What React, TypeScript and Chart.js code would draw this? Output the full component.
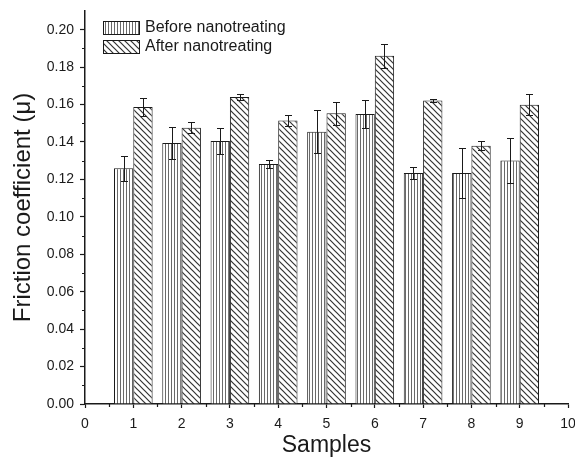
import React, { useEffect, useRef } from 'react';
import { Chart, registerables } from 'chart.js';

Chart.register(...registerables);

const samples = [1, 2, 3, 4, 5, 6, 7, 8, 9];
const beforeValues = [0.126, 0.1394, 0.1405, 0.1283, 0.1455, 0.155, 0.1234, 0.1234, 0.1301];
const beforeErrors = [0.0066, 0.0085, 0.0068, 0.002, 0.0115, 0.0075, 0.003, 0.0134, 0.012];
const afterValues = [0.1587, 0.1476, 0.164, 0.1515, 0.1553, 0.1861, 0.1622, 0.138, 0.1599];
const afterErrors = [0.0047, 0.003, 0.0015, 0.003, 0.0063, 0.0065, 0.0008, 0.0023, 0.0057];
const seriesLabels = ['Before nanotreating', 'After nanotreating'];
const xTitle = 'Samples';
const yTitle = 'Friction coefficient (\u03bc)';

const FONT = "'Liberation Sans', Arial, sans-serif";
const INK = '#1a1a1a';

function makePattern(kind: 'vertical' | 'diagonal'): CanvasPattern | string {
  const c = document.createElement('canvas');
  const g = c.getContext('2d');
  if (!g) return '#fff';
  if (kind === 'vertical') {
    c.width = 3;
    c.height = 4;
    g.fillStyle = '#ffffff';
    g.fillRect(0, 0, 3, 4);
    g.fillStyle = '#6a6a6a';
    g.fillRect(0, 0, 1, 4);
  } else {
    const p = 6;
    c.width = p;
    c.height = p;
    g.fillStyle = '#ffffff';
    g.fillRect(0, 0, p, p);
    g.strokeStyle = '#333333';
    g.lineWidth = 1.2;
    g.beginPath();
    g.moveTo(-1, -1);
    g.lineTo(p + 1, p + 1);
    g.moveTo(p - 1, -1);
    g.lineTo(p + 1, 1);
    g.moveTo(-1, p - 1);
    g.lineTo(1, p + 1);
    g.stroke();
  }
  return g.createPattern(c, 'repeat') || '#fff';
}

export default function App() {
  const ref = useRef<HTMLCanvasElement | null>(null);

  useEffect(() => {
    const canvas = ref.current;
    if (!canvas) return;
    const beforeFill = makePattern('vertical');
    const afterFill = makePattern('diagonal');
    const fills = [beforeFill, afterFill];
    const values = [beforeValues, afterValues];
    const errors = [beforeErrors, afterErrors];

    const errorBars = {
      id: 'errorBars',
      afterDatasetsDraw(chart: any) {
        const { ctx } = chart;
        const y = chart.scales.y;
        ctx.save();
        ctx.strokeStyle = INK;
        ctx.lineWidth = 1;
        for (let d = 0; d < values.length; d++) {
          const meta = chart.getDatasetMeta(d);
          meta.data.forEach((bar: any, i: number) => {
            const v = values[d][i];
            const e = errors[d][i];
            const x = Math.round(bar.x) + 0.5;
            const yt = Math.round(y.getPixelForValue(v + e)) + 0.5;
            const yb = Math.round(y.getPixelForValue(v - e)) + 0.5;
            ctx.beginPath();
            ctx.moveTo(x, yt);
            ctx.lineTo(x, yb);
            ctx.moveTo(x - 3.5, yt);
            ctx.lineTo(x + 3.5, yt);
            ctx.moveTo(x - 3.5, yb);
            ctx.lineTo(x + 3.5, yb);
            ctx.stroke();
          });
        }
        ctx.restore();
      },
    };

    const minorTicks = {
      id: 'minorTicks',
      afterDraw(chart: any) {
        const { ctx } = chart;
        const x = chart.scales.x;
        const y = chart.scales.y;
        ctx.save();
        ctx.strokeStyle = INK;
        ctx.lineWidth = 1.2;
        ctx.beginPath();
        for (let k = 1; k < 21; k += 2) {
          const py = Math.round(y.getPixelForValue(k / 100)) + 0.5;
          ctx.moveTo(y.right - 3, py);
          ctx.lineTo(y.right, py);
        }
        for (let k = 0; k < 10; k++) {
          const px = Math.round(x.getPixelForValue(k + 0.5)) + 0.5;
          ctx.moveTo(px, x.top);
          ctx.lineTo(px, x.top + 3);
        }
        ctx.stroke();
        ctx.restore();
      },
    };

    const boxLegend = {
      id: 'boxLegend',
      afterDraw(chart: any) {
        const { ctx, chartArea } = chart;
        ctx.save();
        const bx = chartArea.left + 18;
        let by = chartArea.top + 10;
        ctx.font = `16px ${FONT}`;
        ctx.textBaseline = 'middle';
        ctx.textAlign = 'left';
        for (let d = 0; d < seriesLabels.length; d++) {
          ctx.fillStyle = fills[d];
          ctx.fillRect(bx, by, 36, 13);
          ctx.strokeStyle = INK;
          ctx.lineWidth = 1;
          ctx.strokeRect(bx + 0.5, by + 0.5, 36, 13);
          ctx.fillStyle = INK;
          ctx.fillText(seriesLabels[d], bx + 42, by + 7);
          by += 19;
        }
        ctx.restore();
      },
    };

    const chart = new Chart(canvas, {
      type: 'bar',
      data: {
        datasets: seriesLabels.map((label, d) => ({
          label,
          data: samples.map((s, i) => ({ x: s, y: values[d][i] })),
          backgroundColor: fills[d] as any,
          borderColor: INK,
          borderWidth: 1,
          borderSkipped: 'start' as const,
          categoryPercentage: 0.8,
          barPercentage: 1.0,
        })),
      },
      options: {
        responsive: false,
        animation: false,
        layout: { padding: { top: 11, right: 7, left: 0, bottom: 0 } },
        plugins: {
          legend: { display: false },
          tooltip: { enabled: false },
        },
        scales: {
          x: {
            type: 'linear',
            min: 0,
            max: 10,
            offset: false,
            grid: { drawOnChartArea: false, offset: false, tickLength: 4, tickColor: INK, tickWidth: 1.2 },
            border: { color: INK, width: 1.5 },
            ticks: {
              stepSize: 1,
              autoSkip: false,
              maxRotation: 0,
              padding: 8,
              color: INK,
              font: { family: FONT, size: 14 },
            },
            title: {
              display: true,
              text: xTitle,
              color: INK,
              font: { family: FONT, size: 23, lineHeight: 1 },
              padding: { top: 0, bottom: 0 },
            },
            afterFit(s: any) {
              s.height = 53;
              s.paddingLeft = 0;
              s.paddingRight = 0;
            },
          },
          y: {
            type: 'linear',
            min: 0,
            max: 0.21,
            grid: { drawOnChartArea: false, tickLength: 5, tickColor: INK, tickWidth: 1.2 },
            border: { color: INK, width: 1.5 },
            ticks: {
              stepSize: 0.02,
              includeBounds: false,
              padding: 6,
              color: INK,
              font: { family: FONT, size: 14 },
              callback: (v: any) => Number(v).toFixed(2),
            },
            title: {
              display: true,
              text: yTitle,
              color: INK,
              font: { family: FONT, size: 24, lineHeight: 1.2 },
              padding: { top: 9, bottom: 0 },
            },
            afterFit(s: any) {
              s.width = 85;
              s.paddingTop = 0;
              s.paddingBottom = 0;
            },
          },
        },
      } as any,
      plugins: [errorBars, minorTicks, boxLegend],
    });
    return () => chart.destroy();
  }, []);

  return (
    <div style={{ position: 'absolute', left: 0, top: 0, width: 575, height: 457, background: '#fff' }}>
      <canvas ref={ref} width={575} height={457} />
    </div>
  );
}
